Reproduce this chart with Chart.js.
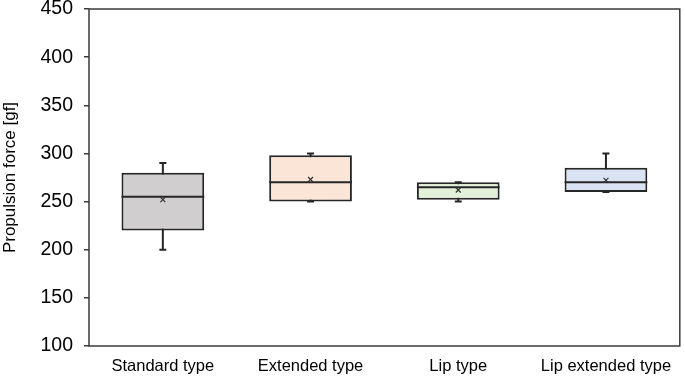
<!DOCTYPE html>
<html>
<head>
<meta charset="utf-8">
<script src="https://cdn.jsdelivr.net/npm/chart.js@4"></script>
<style>
  body { margin: 0; background: #fff; }
  #wrap { width: 685px; height: 382px; }
</style>
</head>
<body>
<div id="wrap"><canvas id="myChart"></canvas></div>
<script>
const categories = ["Standard type", "Extended type", "Lip type", "Lip extended type"];
const minVals = [200, 250, 250, 260];
const q1Vals = [220, 250, 252, 260];
const medianVals = [255, 270, 265, 270];
const q3Vals = [280, 298, 270, 285];
const maxVals = [290, 300, 270, 300];
const meanVals = [252, 273, 262, 272];
const boxColors = ["#d0cece", "#fbe5d6", "#e2f0d9", "#dae3f3"];

const lineColor = "#262626";
const fontName = "'Liberation Sans', Arial, sans-serif";

// whiskers behind the boxes, medians on top, frame round the plot
const boxPlugin = {
  id: "boxParts",
  beforeDatasetsDraw: function (chart) {
    const ctx = chart.ctx;
    const x = chart.scales.x;
    const y = chart.scales.y;
    ctx.save();
    ctx.strokeStyle = lineColor;
    ctx.lineWidth = 2;
    categories.forEach((c, i) => {
      const cx = x.getPixelForValue(i);
      const top = y.getPixelForValue(maxVals[i]);
      const bot = y.getPixelForValue(minVals[i]);
      ctx.beginPath();
      ctx.moveTo(cx, top);
      ctx.lineTo(cx, bot);
      ctx.moveTo(cx - 3.5, top);
      ctx.lineTo(cx + 3.5, top);
      ctx.moveTo(cx - 3.5, bot);
      ctx.lineTo(cx + 3.5, bot);
      ctx.stroke();
    });
    ctx.restore();
  },
  afterDatasetDraw: function (chart, args) {
    if (args.index !== 0) return;
    const ctx = chart.ctx;
    const y = chart.scales.y;
    ctx.save();
    ctx.strokeStyle = lineColor;
    ctx.lineWidth = 2;
    args.meta.data.forEach((bar, i) => {
      const my = y.getPixelForValue(medianVals[i]);
      ctx.beginPath();
      ctx.moveTo(bar.x - bar.width / 2, my);
      ctx.lineTo(bar.x + bar.width / 2, my);
      ctx.stroke();
    });
    ctx.restore();
  },
  afterDraw: function (chart) {
    const a = chart.chartArea;
    const ctx = chart.ctx;
    ctx.save();
    ctx.strokeStyle = "#3a3a3a";
    ctx.lineWidth = 1.5;
    ctx.strokeRect(a.left, a.top, a.right - a.left, a.bottom - a.top);
    ctx.restore();
  },
};

const config = {
  data: {
    labels: categories,
    datasets: [
      {
        type: "bar",
        data: categories.map((c, i) => [q1Vals[i], q3Vals[i]]),
        backgroundColor: boxColors,
        borderColor: lineColor,
        borderWidth: 2,
        borderSkipped: false,
        categoryPercentage: 1,
        barPercentage: 0.56,
        order: 2,
      },
      {
        type: "line",
        data: meanVals,
        showLine: false,
        pointStyle: "crossRot",
        pointRadius: 3.5,
        borderColor: "#333",
        borderWidth: 1.2,
        order: 1,
      },
    ],
  },
  options: {
    responsive: true,
    maintainAspectRatio: false,
    animation: false,
    layout: { padding: { top: 9, right: 1, left: 0, bottom: 0 } },
    plugins: {
      legend: { display: false },
      tooltip: { enabled: false },
    },
    scales: {
      x: {
        grid: { display: false, drawTicks: false },
        border: { display: false },
        ticks: {
          color: "#000",
          padding: 11,
          maxRotation: 0,
          font: { family: fontName, size: 16.5 },
        },
        afterFit: function (scale) {
          scale.height = 36;
          scale.paddingLeft = 0;
          scale.paddingRight = 0;
        },
      },
      y: {
        min: 100,
        max: 450,
        grid: { drawOnChartArea: false, drawTicks: true, tickLength: 5, color: "#3a3a3a", lineWidth: 1.5 },
        border: { display: false },
        ticks: {
          stepSize: 50,
          color: "#000",
          padding: 11,
          font: { family: fontName, size: 19.5 },
        },
        title: {
          display: true,
          text: "Propulsion force [gf]",
          color: "#000",
          padding: 0,
          font: { family: fontName, size: 17 },
        },
        afterFit: function (scale) {
          scale.width = 89;
          scale.paddingTop = 0;
          scale.paddingBottom = 0;
        },
      },
    },
  },
  plugins: [boxPlugin],
};

const chart = new Chart(document.getElementById("myChart"), config);
</script>
</body>
</html>
